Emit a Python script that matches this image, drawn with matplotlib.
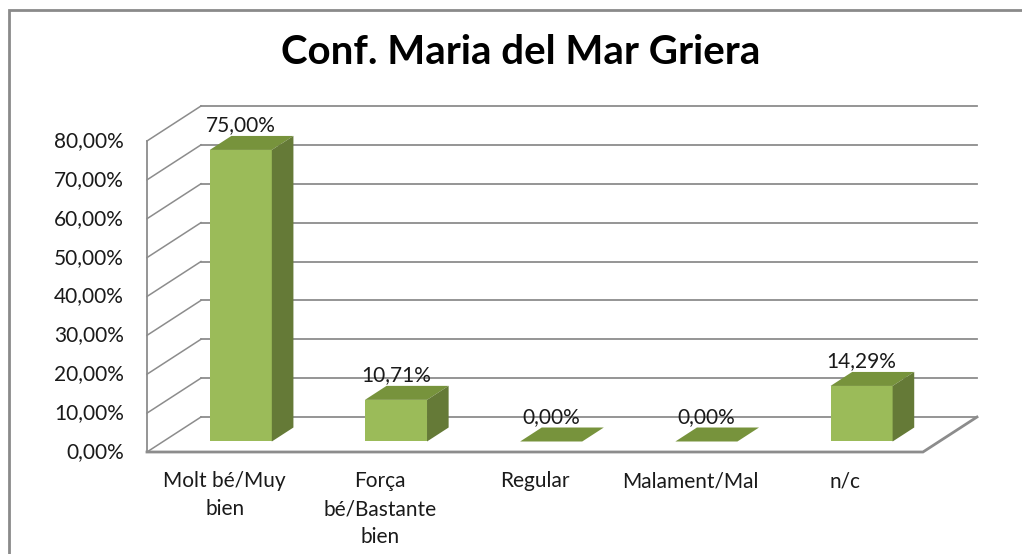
"""Conf. Maria del Mar Griera - 3D style column chart (Excel look)."""

import matplotlib.pyplot as plt
import matplotlib
from matplotlib.patches import Polygon, Rectangle

matplotlib.rcParams["font.family"] = ["Lato", "DejaVu Sans"]

categories = ["Molt bé/Muy\nbien", "Força\nbé/Bastante\nbien", "Regular",
              "Malament/Mal", "n/c"]
values = [75.00, 10.71, 0.00, 0.00, 14.29]
ticks = [0, 10, 20, 30, 40, 50, 60, 70, 80]

# oblique depth offset (in data units) and bar geometry
DX, DY = 0.348, 9.0
Z0, Z1 = 0.3, 0.7
HALF = 0.2

FRONT = "#9BBB59"
TOP = "#77933C"
SIDE = "#657A37"
GRID = "#8c8c8c"


def proj(x, y, z):
    return (x + z * DX, y + z * DY)


def pct(v):
    return f"{v:.2f}".replace(".", ",") + "%"


fig = plt.figure(figsize=(10.22, 5.54), dpi=100)
ax = fig.add_axes([0, 0, 1, 1])
ax.set_xlim(-1.447, 5.138)
ax.set_ylim(-26.24, 116.27)
ax.axis("off")

n = len(categories)
x_lo, x_hi = -0.5, n - 0.5
top_val = ticks[-1]

# back wall gridlines + left wall diagonals
for v in ticks:
    a, b = proj(x_lo, v, 1), proj(x_hi, v, 1)
    ax.plot([a[0], b[0]], [a[1], b[1]], color=GRID, lw=1.3, zorder=1)
    c, d = proj(x_lo, v, 0), proj(x_lo, v, 1)
    ax.plot([c[0], d[0]], [c[1], d[1]], color=GRID, lw=1.1, zorder=1)

# left wall front edge
p, q = proj(x_lo, 0, 0), proj(x_lo, top_val, 0)
ax.plot([p[0], q[0]], [p[1], q[1]], color=GRID, lw=1.3, zorder=1)

# floor front and right edges
f0, f1, f2 = proj(x_lo, 0, 0), proj(x_hi, 0, 0), proj(x_hi, 0, 1)
ax.plot([f0[0], f1[0], f2[0]], [f0[1], f1[1], f2[1]], color=GRID, lw=2.0,
        zorder=1, solid_joinstyle="miter")

# bars
for i, v in enumerate(values):
    l, r = i - HALF, i + HALF
    top = [proj(l, v, Z0), proj(r, v, Z0), proj(r, v, Z1), proj(l, v, Z1)]
    ax.add_patch(Polygon(top, closed=True, facecolor=TOP, edgecolor="none",
                         zorder=3))
    if v > 0:
        front = [proj(l, 0, Z0), proj(r, 0, Z0), proj(r, v, Z0), proj(l, v, Z0)]
        side = [proj(r, 0, Z0), proj(r, v, Z0), proj(r, v, Z1), proj(r, 0, Z1)]
        ax.add_patch(Polygon(front, closed=True, facecolor=FRONT,
                             edgecolor="none", zorder=3))
        ax.add_patch(Polygon(side, closed=True, facecolor=SIDE,
                             edgecolor="none", zorder=3))
    lx, _ = proj(i, v, Z0)
    _, ly = proj(i, v, Z1)
    ax.text(lx, ly + 0.2, pct(v), ha="center", va="bottom", fontsize=15,
            color="#1a1a1a", zorder=4)

# y tick labels
for v in ticks:
    ax.text(x_lo - 0.148, v, pct(v), ha="right", va="center", fontsize=15,
            color="#1a1a1a")

# category labels
for i, lab in enumerate(categories):
    ax.text(i, -5.0, lab, ha="center", va="top", fontsize=15,
            linespacing=1.5, color="#1a1a1a")

fig.text(0.509, 0.905, "Conf. Maria del Mar Griera", ha="center",
         va="center", fontsize=29, fontweight="bold", color="black")

# chart frame (right and bottom edges fall outside the picture)
fig.patches.append(Rectangle((9 / 1022, -0.05), 1.1, 1.05 - 10 / 554,
                             transform=fig.transFigure, fill=False,
                             edgecolor="#8a8a8a", lw=2.0))

plt.savefig("out.png", dpi=100)
print("out.png created")
